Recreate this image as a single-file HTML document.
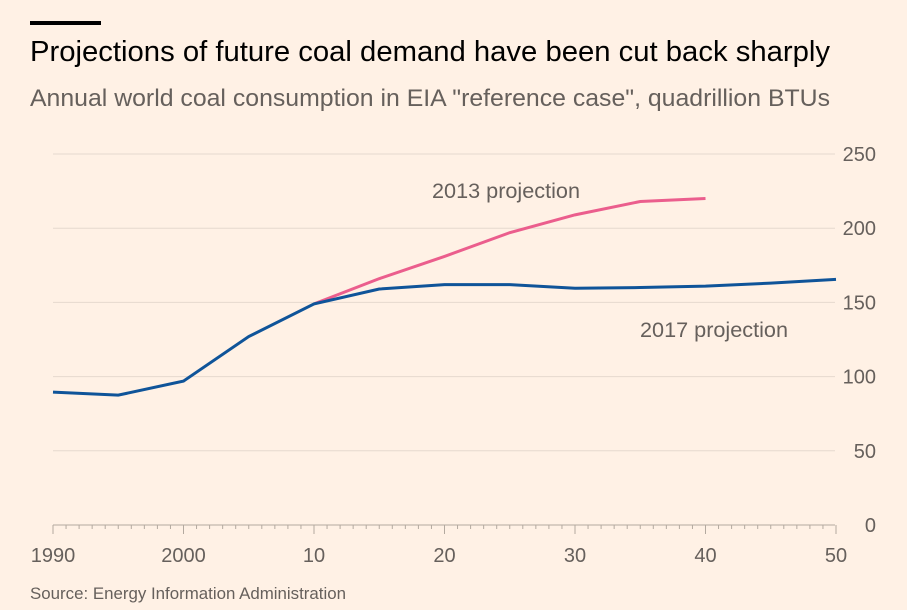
<!DOCTYPE html>
<html><head><meta charset="utf-8"><style>
body{margin:0;background:#fff1e5;width:907px;height:610px;overflow:hidden;font-family:"Liberation Sans",sans-serif}
svg{position:absolute;left:0;top:0}
</style></head><body>
<svg width="907" height="610" id="c">
<rect x="30" y="21" width="71" height="4" fill="#000"/>
<text x="30" y="61" font-size="29" textLength="800" lengthAdjust="spacingAndGlyphs" fill="#000">Projections of future coal demand have been cut back sharply</text>
<text x="30" y="106" font-size="24" textLength="800" lengthAdjust="spacingAndGlyphs" fill="#66605c">Annual world coal consumption in EIA "reference case", quadrillion BTUs</text>
<g id="grid"></g><g id="xaxis"></g><g id="lines"></g>
<text x="432" y="198" font-size="21" textLength="148" lengthAdjust="spacingAndGlyphs" fill="#66605c">2013 projection</text>
<text x="640" y="337" font-size="21" textLength="148" lengthAdjust="spacingAndGlyphs" fill="#66605c">2017 projection</text>
<text x="30" y="599" font-size="17" textLength="316" lengthAdjust="spacingAndGlyphs" fill="#66605c">Source: Energy Information Administration</text>
</svg>
<script>
const years=[1990,1995,2000,2005,2010,2015,2020,2025,2030,2035,2040,2045,2050];
const proj2017=[89.5,87.5,97,127,149,159,162,162,159.5,160,161,163,165.5];
const years2013=[2010,2015,2020,2025,2030,2035,2040];
const proj2013=[149,166,181,197,209,218,220];
const yTicks=[0,50,100,150,200,250];
const xTickYears=[1990,2000,2010,2020,2030,2040,2050];
const xTickLabels=["1990","2000","10","20","30","40","50"];
const X=y=>53+(y-1990)*13.05, Y=v=>525-v*1.484;
const ns="http://www.w3.org/2000/svg";
function mk(t,a,p){const e=document.createElementNS(ns,t);for(const k in a)e.setAttribute(k,a[k]);p.appendChild(e);return e;}
const g=document.getElementById('grid');
yTicks.forEach(v=>{
 if(v>0){const l=mk('line',{x1:53,x2:835,y1:Y(v),y2:Y(v),stroke:'#e6d9ce','stroke-width':1},g);
 
 }
 const t=mk('text',{x:876,y:Y(v)+7,'font-size':20,fill:'#66605c','text-anchor':'end'},g);t.textContent=v;
 
 
});
const xa=document.getElementById('xaxis');
const ax=mk('line',{x1:53,x2:835,y1:525,y2:525,stroke:'#b3a99f','stroke-width':1},xa);


for(let yr=1990;yr<=2050;yr++){
 const maj=yr%10===0;
 const tk=mk('line',{x1:X(yr),x2:X(yr),y1:525,y2:maj?534:529,stroke:'#b3a99f','stroke-width':1},xa);
 
 
}
xTickYears.forEach((yr,i)=>{
 const t=mk('text',{x:X(yr),y:562,'font-size':20,fill:'#66605c','text-anchor':'middle'},xa);t.textContent=xTickLabels[i];
 
 
});
const L=document.getElementById('lines');
const p13=mk('polyline',{points:years2013.map((y,i)=>X(y)+','+Y(proj2013[i])).join(' '),fill:'none',stroke:'#eb5e8d','stroke-width':3},L);


const p17=mk('polyline',{points:years.map((y,i)=>X(y)+','+Y(proj2017[i])).join(' '),fill:'none',stroke:'#0f5499','stroke-width':3},L);


</script>
</body></html>
